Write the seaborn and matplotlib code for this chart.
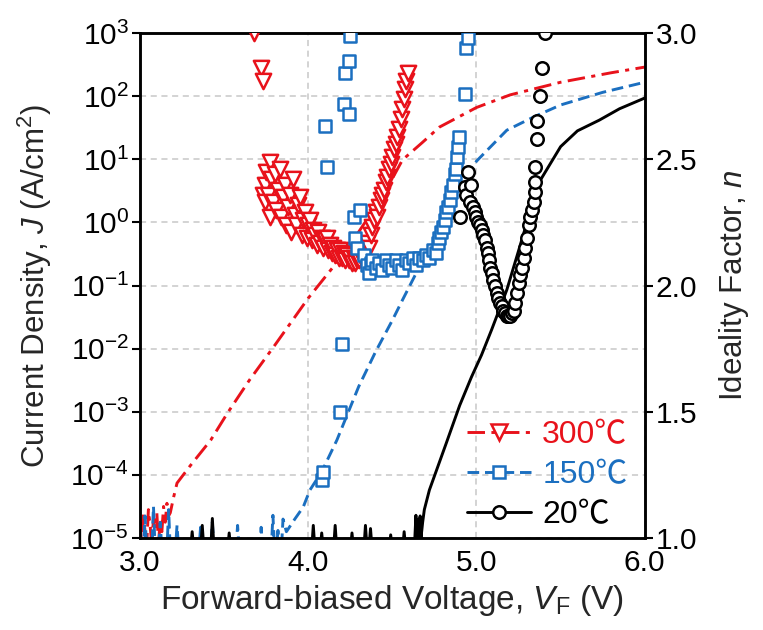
import numpy as np
import pandas as pd
import matplotlib
matplotlib.use('Agg')
import matplotlib.pyplot as plt
from matplotlib.lines import Line2D
import seaborn as sns

sns.set_theme(style='white')
plt.rcParams['font.family'] = ['Liberation Sans', 'Noto Sans CJK JP', 'DejaVu Sans']
plt.rcParams['mathtext.fontset'] = 'custom'
plt.rcParams['mathtext.rm'] = 'Liberation Sans'
plt.rcParams['mathtext.it'] = 'Liberation Sans:italic'

RED = '#e8121b'
BLUE = '#1b6fc0'
BLACK = '#000000'

# %% J-V curves (log10 of current density, A/cm2)
# values below -5 are the floor of the noise, they get clipped by the axis
v_300 = [3.00, 3.01, 3.02, 3.03, 3.04, 3.05, 3.06, 3.07, 3.08, 3.09, 3.10,
         3.11, 3.12, 3.13, 3.14, 3.15, 3.16, 3.17, 3.18, 3.20, 3.22, 3.30,
         3.42, 3.52, 3.65, 3.80, 4.00, 4.15, 4.30, 4.45, 4.56, 4.68, 4.78,
         5.00, 5.20, 5.50, 5.80, 6.00]
logj_300 = [-4.75, -5.10, -4.60, -4.90, -5.10, -4.55, -4.80, -5.10, -4.70,
            -4.85, -4.60, -5.10, -4.70, -4.90, -4.50, -4.75, -4.45, -4.65,
            -4.60, -4.35, -4.13, -3.85, -3.45, -3.02, -2.50, -1.95, -1.20,
            -0.70, -0.15, 0.45, 0.99, 1.27, 1.51, 1.82, 2.02, 2.22, 2.37, 2.46]

v_150 = [3.00, 3.02, 3.03, 3.04, 3.07, 3.08, 3.09, 3.11, 3.12, 3.13, 3.16,
         3.17, 3.18, 3.21, 3.22, 3.23, 3.35, 3.36, 3.37, 3.42, 3.43, 3.44,
         3.57, 3.58, 3.59, 3.71, 3.72, 3.73, 3.78, 3.79, 3.80, 3.81, 3.82,
         3.83, 3.84, 3.85, 3.87, 3.92, 3.97, 4.01, 4.08, 4.17, 4.30, 4.40,
         4.50, 4.56, 4.65, 4.75, 4.85, 4.92, 5.00, 5.18, 5.34, 5.50, 5.75,
         6.00]
logj_150 = [-5.2, -5.2, -4.65, -5.2, -5.2, -4.50, -5.2, -5.2, -4.75, -5.2,
            -5.2, -4.55, -5.2, -5.2, -4.80, -5.2, -5.2, -4.83, -5.2, -5.2,
            -4.75, -5.2, -5.2, -4.80, -5.2, -5.2, -4.83, -5.2, -5.2, -4.64,
            -5.2, -5.2, -4.88, -5.2, -5.2, -4.70, -4.90, -4.70, -4.51, -4.24,
            -3.95, -3.45, -2.60, -2.05, -1.55, -1.23, -0.76, -0.25, 0.30,
            0.65, 0.97, 1.46, 1.67, 1.86, 2.06, 2.22]

v_20 = [3.00, 3.30, 3.31, 3.32, 3.36, 3.37, 3.38, 3.42, 3.43, 3.44, 3.52,
        3.53, 3.54, 4.02, 4.03, 4.04, 4.07, 4.08, 4.09, 4.15, 4.16, 4.17,
        4.25, 4.26, 4.27, 4.33, 4.34, 4.35, 4.36, 4.37, 4.38, 4.48, 4.49,
        4.50, 4.56, 4.57, 4.58, 4.63, 4.64, 4.645, 4.655, 4.66, 4.665, 4.67,
        4.68, 4.69, 4.72, 4.82, 4.90, 4.97, 5.03, 5.09, 5.18, 5.25, 5.30,
        5.38, 5.50, 5.60, 5.73, 5.85, 6.00]
logj_20 = [-5.2, -5.2, -4.90, -5.2, -5.2, -4.80, -5.2, -5.2, -4.69, -5.2,
           -5.2, -4.92, -5.2, -5.2, -4.80, -5.2, -5.2, -4.92, -5.2, -5.2,
           -4.80, -5.2, -5.2, -4.92, -5.2, -5.2, -4.80, -5.2, -5.2, -4.85,
           -5.2, -5.2, -4.95, -5.2, -5.2, -4.90, -5.2, -5.2, -4.64, -5.2,
           -4.70, -5.2, -4.65, -5.0, -4.75, -4.55, -4.24, -3.50, -2.90,
           -2.45, -2.10, -1.70, -1.07, -0.45, 0.00, 0.67, 1.20, 1.45, 1.62,
           1.80, 1.97]

# %% ideality factor n (right axis)
nv_300 = [3.68, 3.72, 3.73, 3.73, 3.74, 3.74, 3.75, 3.76, 3.77, 3.77, 3.78,
          3.79, 3.80, 3.81, 3.82, 3.83, 3.84, 3.85, 3.86, 3.87, 3.88, 3.89,
          3.90, 3.91, 3.92, 3.93, 3.94, 3.95, 3.96, 3.97, 3.98, 3.99, 4.00,
          4.01, 4.02, 4.03, 4.04, 4.05, 4.06, 4.07, 4.08, 4.09, 4.10, 4.11,
          4.12, 4.13, 4.14, 4.15, 4.16, 4.17, 4.18, 4.19, 4.20, 4.21, 4.22,
          4.23, 4.24, 4.25, 4.26, 4.27, 4.28, 4.29, 4.30, 4.31, 4.32, 4.33,
          4.34, 4.35, 4.36, 4.37, 4.38, 4.39, 4.40, 4.41, 4.42, 4.43, 4.44,
          4.45, 4.46, 4.47, 4.48, 4.49, 4.50, 4.51, 4.52, 4.53, 4.54, 4.55,
          4.56, 4.57, 4.575, 4.58, 4.59]
n_300 = [3.00, 2.86, 2.81, 2.36, 2.40, 2.33, 2.45, 2.36, 2.49, 2.27, 2.42,
         2.33, 2.44, 2.30, 2.38, 2.46, 2.27, 2.35, 2.40, 2.24, 2.31, 2.36,
         2.21, 2.42, 2.28, 2.24, 2.32, 2.35, 2.20, 2.26, 2.29, 2.19, 2.24,
         2.26, 2.18, 2.22, 2.20, 2.16, 2.21, 2.17, 2.19, 2.15, 2.18, 2.19,
         2.14, 2.16, 2.13, 2.15, 2.12, 2.14, 2.11, 2.14, 2.11, 2.13, 2.10,
         2.12, 2.10, 2.11, 2.09, 2.11, 2.09, 2.10, 2.10, 2.12, 2.11, 2.14,
         2.13, 2.17, 2.15, 2.20, 2.23, 2.26, 2.29, 2.27, 2.31, 2.34, 2.36,
         2.38, 2.41, 2.43, 2.46, 2.48, 2.51, 2.54, 2.56, 2.59, 2.62, 2.66,
         2.70, 2.74, 2.78, 2.81, 2.84]

nv_150 = [4.08, 4.09, 4.10, 4.11, 4.19, 4.20, 4.21, 4.22, 4.24, 4.24, 4.25,
          4.27, 4.28, 4.29, 4.31, 4.33, 4.35, 4.36, 4.37, 4.38, 4.40, 4.42,
          4.44, 4.46, 4.48, 4.50, 4.52, 4.54, 4.56, 4.58, 4.60, 4.62, 4.64,
          4.66, 4.68, 4.70, 4.72, 4.74, 4.76, 4.77, 4.78, 4.79, 4.80, 4.81,
          4.82, 4.83, 4.84, 4.85, 4.86, 4.87, 4.88, 4.885, 4.89, 4.895,
          4.93, 4.94, 4.95]
n_150 = [1.23, 1.26, 2.63, 2.47, 1.50, 1.77, 2.72, 2.84, 2.89, 2.68, 2.99,
         2.27, 2.19, 2.15, 2.30, 2.12, 2.08, 2.05, 2.09, 2.10, 2.07, 2.09,
         2.06, 2.10, 2.08, 2.07, 2.10, 2.08, 2.06, 2.10, 2.09, 2.11, 2.08,
         2.11, 2.10, 2.12, 2.11, 2.14, 2.13, 2.17, 2.19, 2.21, 2.23, 2.26,
         2.29, 2.31, 2.34, 2.37, 2.40, 2.44, 2.46, 2.51, 2.55, 2.59, 2.76,
         2.94, 2.98]

nv_20 = [4.90, 4.93, 4.94, 4.95, 4.96, 4.97, 4.98, 4.99, 5.00, 5.01, 5.02,
         5.03, 5.04, 5.05, 5.06, 5.07, 5.075, 5.08, 5.09, 5.10, 5.11, 5.12,
         5.13, 5.14, 5.15, 5.16, 5.17, 5.18, 5.19, 5.20, 5.21, 5.22, 5.23,
         5.24, 5.25, 5.26, 5.27, 5.28, 5.29, 5.30, 5.31, 5.32, 5.33, 5.34,
         5.345, 5.35, 5.35, 5.36, 5.36, 5.38, 5.39, 5.41]
n_20 = [2.27, 2.39, 2.36, 2.45, 2.33, 2.40, 2.31, 2.29, 2.27, 2.25, 2.24,
        2.22, 2.20, 2.18, 2.15, 2.13, 2.10, 2.07, 2.05, 2.02, 2.00, 1.97,
        1.95, 1.93, 1.92, 1.90, 1.89, 1.88, 1.88, 1.88, 1.89, 1.90, 1.93,
        1.97, 2.01, 2.04, 2.07, 2.11, 2.15, 2.19, 2.24, 2.27, 2.30, 2.33,
        2.37, 2.41, 2.47, 2.58, 2.65, 2.75, 2.86, 3.00]

labels = ['300℃', '150℃', '20℃']
colors = [RED, BLUE, BLACK]
styles = [(0, (6, 2.2, 1.4, 2.2)), (0, (4, 2)), '-']
markers = ['v', 's', 'o']
msizes = [11, 8.5, 9]

jv = [(v_300, logj_300), (v_150, logj_150), (v_20, logj_20)]
nn = [(nv_300, n_300), (nv_150, n_150), (nv_20, n_20)]

fig = plt.figure(figsize=(7.63, 6.3), dpi=100)
ax = fig.add_axes([0.1835, 0.146, 0.6615, 0.8016])
ax.set_yscale('log')

for (v, lj), c, ls in zip(jv, colors, styles):
    sns.lineplot(x=np.array(v), y=10.0 ** np.array(lj), ax=ax, color=c,
                 linestyle=ls, linewidth=2.1, sort=False, estimator=None)

ax.set_xlim(3.0, 6.0)
ax.set_ylim(1e-5, 1e3)
ax.set_xticks([3.0, 4.0, 5.0, 6.0])
ax.set_xticklabels(['3.0', '4.0', '5.0', '6.0'])
ax.set_yticks([10.0 ** k for k in range(-5, 4)])
ax.minorticks_off()
ax.grid(True, which='major', color='#c8c8c8', linestyle=(0, (4, 3)), linewidth=1.1)
ax.set_xlabel('Forward-biased Voltage, $V_\\mathrm{F}$ (V)', fontsize=24, labelpad=4)
ax.set_ylabel('Current Density, $J$ (A/cm$^2$)', fontsize=22.5, labelpad=12)

ax2 = ax.twinx()
for (v, n), c, m, ms in zip(nn, colors, markers, msizes):
    sns.scatterplot(x=v, y=n, ax=ax2, marker=m, s=ms ** 2, facecolor='white',
                    edgecolor=c, linewidth=1.8, zorder=3)
ax2.set_ylim(1.0, 3.0)
ax2.set_yticks([1.0, 1.5, 2.0, 2.5, 3.0])
ax2.set_yticklabels(['1.0', '1.5', '2.0', '2.5', '3.0'])
ax2.set_ylabel('Ideality Factor, $n$', fontsize=22.5, labelpad=14)

for a in (ax, ax2):
    for s in a.spines.values():
        s.set_linewidth(1.8)
        s.set_color('black')
    a.tick_params(axis='both', which='major', direction='out', length=6,
                  width=1.5, labelsize=21.5, colors='black', pad=2)

handles = [Line2D([0], [0], color=c, linestyle=ls, linewidth=2.1, marker=m,
                  markersize=ms, markerfacecolor='white', markeredgecolor=c,
                  markeredgewidth=1.8)
           for c, ls, m, ms in zip(colors, styles, markers, msizes)]
leg = ax2.legend(handles, labels, loc='lower right', bbox_to_anchor=(1.01, -0.028),
                 frameon=False, fontsize=23, handlelength=2.0, handletextpad=0.35,
                 labelspacing=0.3, borderaxespad=0.3, labelcolor='linecolor')

fig.savefig('out.png', dpi=100)
